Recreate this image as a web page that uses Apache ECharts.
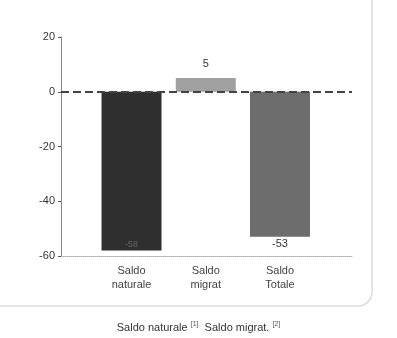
<!DOCTYPE html>
<html>
<head>
<meta charset="utf-8">
<script src="https://cdn.jsdelivr.net/npm/echarts@6/dist/echarts.min.js"></script>
<style>
  html, body { margin: 0; padding: 0; background: #fff; }
  #main { width: 397px; height: 338px; }
</style>
</head>
<body>
<div id="main"></div>
<script>
var categories = ['Saldo\nnaturale', 'Saldo\nmigrat', 'Saldo\nTotale'];
var values = [-58, 5, -53];
var barColors = ['#2f2f2f', '#a0a0a0', '#6d6d6d'];
var yTicks = [-60, -40, -20, 0, 20];

var myChart = echarts.init(document.getElementById('main'));

var barData = values.map(function (v, i) {
    var item = {
        value: [i + 1, v],
        itemStyle: { color: barColors[i] }
    };
    if (i === 0) {
        item.label = { show: true, position: 'insideBottom', color: '#666', fontSize: 9, distance: 2 };
    } else if (v < 0) {
        item.label = { show: true, position: 'bottom', distance: 2 };
    } else {
        item.label = { show: true, position: 'top', distance: 9 };
    }
    return item;
});

var option = {
    backgroundColor: '#fff',
    animation: false,
    textStyle: { fontFamily: 'Liberation Sans, Arial, sans-serif' },
    grid: { left: 61, right: 45, top: 37, bottom: 82 },
    graphic: [{
        type: 'rect',
        shape: { x: -20, y: -20, width: 392, height: 326, r: 14 },
        style: { fill: 'none', stroke: '#dcdcdc', lineWidth: 1.5 },
        z: -10
    }, {
        type: 'text',
        left: 'center',
        top: 321,
        style: {
            text: 'Saldo naturale {s|[1]}  Saldo migrat. {s|[2]}',
            fill: '#333',
            font: '11px Liberation Sans, Arial, sans-serif',
            rich: { s: { fontSize: 7, fill: '#555', padding: [0, 0, 6, 0] } }
        }
    }],
    xAxis: {
        type: 'value',
        min: 0.05,
        max: 3.97,
        axisLine: { onZero: false, show: true, lineStyle: { color: '#aaa', type: 'dotted' } },
        axisTick: { show: false },
        splitLine: { show: false },
        axisLabel: {
            customValues: [1, 2, 3],
            formatter: function (v) { return categories[Math.round(v) - 1] || ''; },
            color: '#444',
            fontSize: 11,
            lineHeight: 14,
            margin: 8
        }
    },
    yAxis: {
        type: 'value',
        min: yTicks[0],
        max: yTicks[yTicks.length - 1],
        interval: 20,
        axisLine: { show: true, lineStyle: { color: '#888' } },
        axisTick: { show: true, length: 3, lineStyle: { color: '#555' } },
        splitLine: { show: false },
        axisLabel: { color: '#333', fontSize: 11, margin: 6 }
    },
    series: [{
        type: 'bar',
        barWidth: 60,
        data: barData,
        label: { color: '#333', fontSize: 11 },
        markLine: {
            silent: true,
            symbol: 'none',
            label: { show: false },
            lineStyle: { color: '#444', type: 'dashed', width: 2 },
            data: [{ yAxis: 0 }]
        }
    }]
};
myChart.setOption(option);
</script>
</body>
</html>
